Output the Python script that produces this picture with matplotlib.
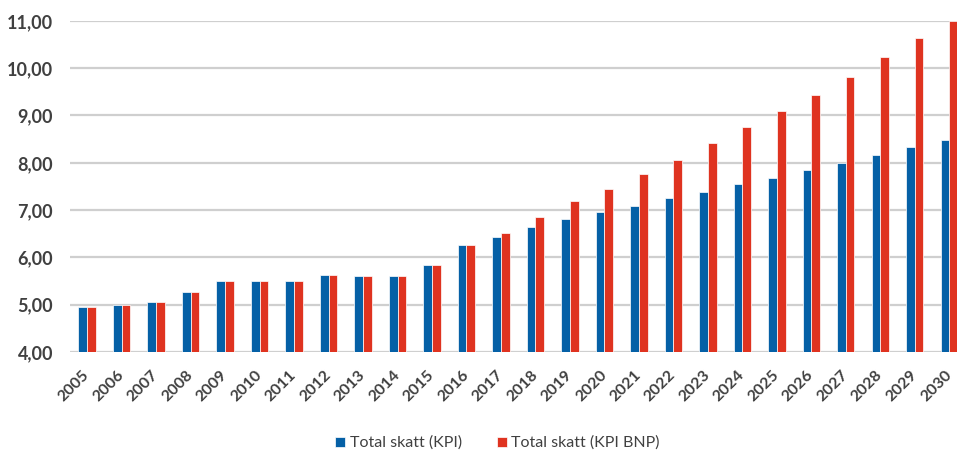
import numpy as np
import matplotlib.pyplot as plt
from matplotlib.ticker import FuncFormatter

plt.rcParams['font.family'] = ['Lato', 'DejaVu Sans']

years = [str(y) for y in range(2005, 2031)]
kpi = [4.96, 4.99, 5.05, 5.26, 5.51, 5.49, 5.49, 5.63, 5.61, 5.61, 5.83, 6.27,
       6.44, 6.65, 6.82, 6.96, 7.09, 7.25, 7.39, 7.55, 7.68, 7.84, 7.99, 8.17,
       8.34, 8.49]
kpi_bnp = [4.96, 4.99, 5.05, 5.26, 5.51, 5.49, 5.49, 5.63, 5.61, 5.61, 5.83, 6.27,
           6.51, 6.85, 7.19, 7.45, 7.77, 8.06, 8.41, 8.75, 9.09, 9.44, 9.82, 10.24,
           10.64, 11.0]

blue = '#0560a6'
red = '#df3320'

fig = plt.figure(figsize=(9.57, 4.53), dpi=100)
ax = fig.add_axes([0.073, 0.223, 0.937, 0.731])

x = np.arange(len(years))
w = 0.25
ax.bar(x - w / 2, np.array(kpi) - 4, w, bottom=4, color=blue, edgecolor='white',
       linewidth=0.5, label='Total skatt (KPI)', zorder=3)
ax.bar(x + w / 2, np.array(kpi_bnp) - 4, w, bottom=4, color=red, edgecolor='white',
       linewidth=0.5, label='Total skatt (KPI BNP)', zorder=3)

ax.set_xlim(-0.5, len(years) - 0.5)
ax.set_ylim(4, 11)
ax.set_yticks(range(4, 12))
ax.yaxis.set_major_formatter(FuncFormatter(lambda v, p: f'{v:.2f}'.replace('.', ',')))
ax.grid(axis='y', color='#cfcfcf', linewidth=1.6, zorder=0)
ax.set_axisbelow(True)
for s in ax.spines.values():
    s.set_visible(False)

ax.set_xticks(x)
ax.set_xticklabels(years, rotation=45, ha='right', va='center', rotation_mode='anchor',
                   fontsize=11.5, color='#404040', fontweight='bold')
ax.tick_params(axis='both', length=0)
ax.tick_params(axis='x', pad=15)
ax.tick_params(axis='y', labelsize=13, labelcolor='#404040', pad=12)
for t in ax.get_yticklabels():
    t.set_fontweight('bold')

leg = fig.legend(loc='center', bbox_to_anchor=(0.52, 0.022), ncol=2, frameon=False,
                 fontsize=11.5, handlelength=0.6, handleheight=0.6, columnspacing=2.2,
                 handletextpad=0.3)
for t in leg.get_texts():
    t.set_color('#404040')

fig.savefig('out.png', dpi=100)
